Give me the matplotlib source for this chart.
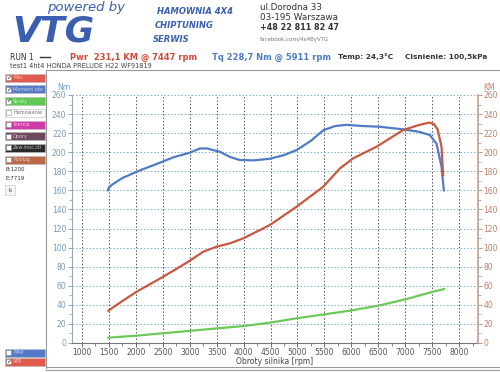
import matplotlib.pyplot as plt
from matplotlib.patches import Rectangle
from matplotlib.lines import Line2D

# torque [Nm] vs rpm
tq_rpm = [1480, 1500, 1560, 1750, 2076, 2400, 2694, 3000, 3190, 3313, 3560, 3750, 3931, 4200, 4488, 4750, 4983, 5250, 5477, 5700, 5911, 6200, 6529, 6961, 7250, 7456, 7580, 7673, 7716]
tq_val = [160, 163, 166, 173, 181, 188, 194.6, 199.5, 204, 204, 200.5, 195, 191.8, 191.5, 193.2, 197, 202.3, 212, 223, 227.5, 228.7, 227.5, 226.7, 224, 221.5, 218, 209, 185, 160]

# power [KM] vs rpm
pw_rpm = [1489, 1750, 2015, 2509, 2972, 3250, 3499, 3746, 3993, 4302, 4488, 4983, 5477, 5787, 6033, 6467, 6961, 7250, 7447, 7530, 7600, 7673, 7703]
pw_val = [33.9, 44, 53.8, 69.5, 85.2, 95.7, 101, 104.5, 109.7, 118.4, 123.7, 142.9, 163.8, 183, 193.6, 205.8, 223.3, 228.5, 231.1, 229.5, 224, 205.8, 176]

# losses vs rpm
ls_rpm = [1489, 2015, 2972, 3993, 4488, 4983, 5972, 6497, 7024, 7518, 7722]
ls_val = [5.6, 7.7, 12.6, 17.8, 21.3, 25.9, 33.9, 39.1, 46.1, 53.8, 56.6]

x_ticks = list(range(1000, 8001, 500))
y_ticks = list(range(0, 261, 20))

panel_labels = ["Moc", "Moment obr.", "Straty", "Hamowanie", "Inercja", "Opory", "Zew.moc.cti", "Poślizg"]
panel_colors = ["#e05a4e", "#5578c8", "#5ec850", "#ffffff", "#d03aa8", "#6e4a5e", "#2a2a2a", "#b86a48"]
panel_checked = [True, True, True, False, False, False, False, False]

BLUE = "#4f7cc4"
RED = "#c9583f"
GREEN = "#6cc85a"

fig = plt.figure(figsize=(5, 3.72), dpi=100)
fig.patch.set_facecolor("white")


def fp(x, y):
    return (x / 500, 1 - y / 372)


ax = fig.add_axes([72 / 500, 1 - 343 / 372, (478 - 72) / 500, (343 - 95) / 372])
ax.plot(tq_rpm, tq_val, color=BLUE, lw=1.6)
ax.plot(ls_rpm, ls_val, color=GREEN, lw=1.6)
ax.set_xlim(815, 8350)
ax.set_ylim(0, 260)

ax2 = ax.twinx()
ax2.plot(pw_rpm, pw_val, color=RED, lw=1.6)
ax2.set_ylim(0, 260)

for a in (ax, ax2):
    a.set_facecolor("none")
    a.spines["top"].set_visible(False)
    a.tick_params(labelsize=5.5, length=3, width=0.6, pad=1)

ax.set_xticks(x_ticks)
ax.set_xticks(range(1250, 8300, 500), minor=True)
ax.set_yticks(y_ticks)
ax.set_yticks(range(10, 260, 20), minor=True)
ax2.set_yticks(y_ticks)
ax2.set_yticks(range(10, 260, 20), minor=True)
ax.tick_params(axis="x", colors="#555555", which="both", pad=0.5)
ax.tick_params(axis="y", colors="#7a9ab8", which="both", labelcolor="#7a9ab8")
ax2.tick_params(axis="y", colors="#c08068", which="both", labelcolor="#c08068")
ax.tick_params(which="minor", length=2, width=0.5)
ax2.tick_params(which="minor", length=2, width=0.5)
ax.spines["left"].set_color("#9aa8b4")
ax.spines["bottom"].set_color("#777777")
ax.spines["right"].set_visible(False)
ax2.spines["left"].set_visible(False)
ax2.spines["bottom"].set_visible(False)
ax2.spines["right"].set_color("#c0a090")
ax2.spines["right"].set_linewidth(1.2)

for xv in x_ticks:
    ax.axvline(xv, color="#555555", lw=0.7, ls=(0, (1.5, 2)), zorder=0)
for yv in y_ticks[1:]:
    ax.axhline(yv, color="#7ab0c8", lw=0.7, ls=(0, (1.5, 2)), zorder=0)

fig.text(*fp(57, 88), "Nm", fontsize=5.5, color="#7a9ab8", va="center")
fig.text(*fp(483, 88), "KM", fontsize=5.5, color="#c08068", va="center")
fig.text(*fp(275, 361), "Obroty silnika [rpm]", fontsize=5.5, color="#444444", ha="center", va="center")

# frame around the plot
for xs, ys in [([46, 500], [70, 70]), ([46, 46], [70, 368]), ([46, 500], [367, 367]), ([46, 500], [370, 370])]:
    fig.add_artist(Line2D([x / 500 for x in xs], [1 - y / 372 for y in ys], transform=fig.transFigure,
                          color="#999999", lw=0.8))

# header
fig.text(*fp(47, 8), "powered by", fontsize=9.5, color="#3a5fb0", style="italic", va="center")
fig.text(*fp(12, 42), "VTG", fontsize=26, color="#3a5fb0", style="italic",
         fontweight="heavy", va="baseline")
fig.text(*fp(157, 12), "HAMOWNIA 4X4", fontsize=6, color="#3a5fb0", style="italic",
         fontweight="bold", va="center")
fig.text(*fp(155, 26), "CHIPTUNING", fontsize=6, color="#3a5fb0", style="italic",
         fontweight="bold", va="center")
fig.text(*fp(153, 39), "SERWIS", fontsize=6, color="#3a5fb0", style="italic",
         fontweight="bold", va="center")
fig.text(*fp(260, 7), "ul.Dorodna 33", fontsize=6.3, color="#333333", va="center")
fig.text(*fp(260, 17), "03-195 Warszawa", fontsize=6.3, color="#333333", va="center")
fig.text(*fp(260, 27), "+48 22 811 82 47", fontsize=5.8, color="#333333", va="center", fontweight="bold")
fig.text(*fp(260, 39), "facebook.com/4x4ByVTG", fontsize=4, color="#777777", va="center")

fig.text(*fp(10, 57), "RUN 1", fontsize=5.5, color="#333333", va="center")
fig.add_artist(Line2D([40 / 500, 50 / 500], [1 - 57 / 372] * 2, transform=fig.transFigure,
                      color="#333333", lw=1))
fig.text(*fp(70, 57), "Pwr  231,1 KM @ 7447 rpm", fontsize=6, color="#d04a3a",
         fontweight="bold", va="center")
fig.text(*fp(212, 57), "Tq 228,7 Nm @ 5911 rpm", fontsize=6, color="#4a7cc8",
         fontweight="bold", va="center")
fig.text(*fp(338, 57), "Temp: 24,3°C", fontsize=5.3, color="#333333", fontweight="bold", va="center")
fig.text(*fp(405, 57), "Cisnienie: 100,5kPa", fontsize=5.3, color="#333333", fontweight="bold", va="center")
fig.text(*fp(10, 66), "test1 4ht4 HONDA PRELUDE H22 WF91819", fontsize=4.8, color="#444444", va="center")

# left control panel
for i, (lab, col, chk) in enumerate(zip(panel_labels, panel_colors, panel_checked)):
    yc = 77.7 + i * 11.7
    fig.add_artist(Rectangle(fp(5, yc + 4), 40 / 500, 8 / 372, transform=fig.transFigure,
                             facecolor=col, edgecolor="#bbbbbb", lw=0.4))
    fig.add_artist(Rectangle(fp(6, yc + 2.5), 5 / 500, 5 / 372, transform=fig.transFigure,
                             facecolor="white", edgecolor="#888888", lw=0.4))
    if chk:
        fig.text(*fp(8.5, yc), "✓", fontsize=4.5, color="#222222", ha="center", va="center")
    tc = "#333333" if col == "#ffffff" else "#ffffff"
    fig.text(*fp(13, yc), lab, fontsize=3.5, color=tc, va="center", alpha=0.7)

fig.text(*fp(5, 169), "B:1200", fontsize=4, color="#333333", va="center")
fig.text(*fp(5, 178), "E:7719", fontsize=4, color="#333333", va="center")
fig.add_artist(Rectangle(fp(5, 195), 10 / 500, 10 / 372, transform=fig.transFigure,
                         facecolor="#f4f4f0", edgecolor="#cccccc", lw=0.5))
fig.text(*fp(10, 190), "k", fontsize=4, color="#333333", ha="center", va="center")

for yc, lab, col, chk in [(352.7, "MAP", "#5578c8", False), (361.7, "AFR", "#e05a4e", True)]:
    fig.add_artist(Rectangle(fp(5, yc + 4), 40 / 500, 8 / 372, transform=fig.transFigure,
                             facecolor=col, edgecolor="#bbbbbb", lw=0.4))
    fig.add_artist(Rectangle(fp(6, yc + 2.5), 5 / 500, 5 / 372, transform=fig.transFigure,
                             facecolor="white", edgecolor="#888888", lw=0.4))
    if chk:
        fig.text(*fp(8.5, yc), "✓", fontsize=4.5, color="#222222", ha="center", va="center")
    fig.text(*fp(13, yc), lab, fontsize=3.5, color="#ffffff", va="center", alpha=0.7)

fig.savefig("out.png", dpi=100)
